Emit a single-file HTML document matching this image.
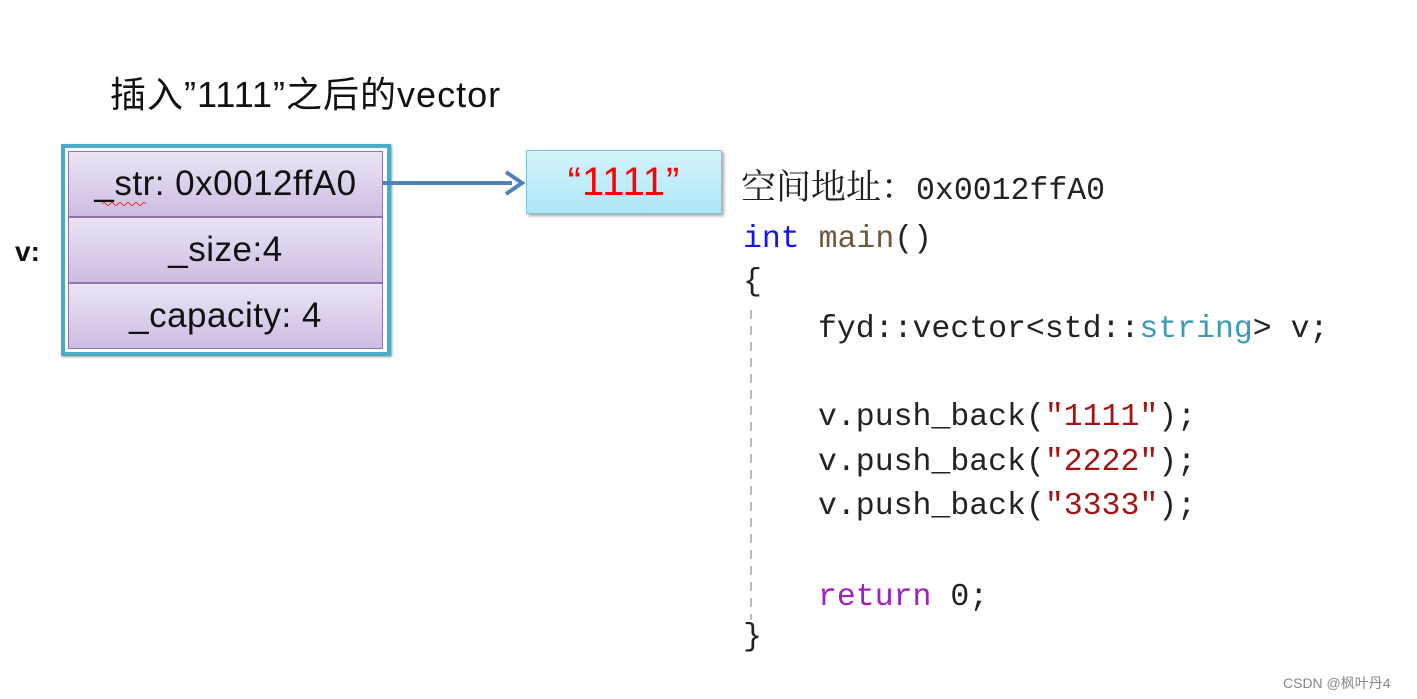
<!DOCTYPE html>
<html><head><meta charset="utf-8"><style>
body{margin:0;width:1417px;height:699px;background:#fff;position:relative;overflow:hidden;font-family:"Liberation Sans","Noto Sans CJK SC",sans-serif}
.a{position:absolute;white-space:nowrap}
.cell{position:absolute;left:68px;width:313px;height:64px;border:1px solid #8c74ac;background:linear-gradient(#ebe4f4,#cdbde3);font-size:35px;line-height:64px;text-align:center;color:#111;letter-spacing:0.5px}
.code{position:absolute;font-family:"Liberation Mono","Noto Serif CJK SC",monospace;font-size:31.5px;color:#222;white-space:pre;line-height:36px}
</style></head><body>
<div class="a" style="left:110px;top:66px;font-size:36px;letter-spacing:1px;color:#111;font-family:'Liberation Sans','Noto Sans CJK SC',sans-serif">插入”1111”之后的vector</div>
<div class="a" style="left:15px;top:236px;font-size:28px;font-weight:bold;color:#111">v:</div>
<div class="a" style="left:61px;top:144px;width:322px;height:204px;border:4px solid #4bacc6;box-shadow:1px 1px 2px #999"></div>
<div class="cell" style="top:151px">_str: 0x0012ffA0</div>
<div class="cell" style="top:217px">_size:4</div>
<div class="cell" style="top:283px">_capacity: 4</div>
<svg class="a" style="left:0;top:0" width="1417" height="699">
<line x1="383" y1="183" x2="512" y2="183" stroke="#4f81bd" stroke-width="4"/>
<polyline points="506,172 522,183 506,194" fill="none" stroke="#4f81bd" stroke-width="4"/>
<line x1="751" y1="310" x2="751" y2="620" stroke="#bbb" stroke-width="2" stroke-dasharray="9,7"/>
<path d="M102,204 q2,-3 4,0 q2,3 4,0 q2,-3 4,0 q2,3 4,0 q2,-3 4,0 q2,3 4,0 q2,-3 4,0 q2,3 4,0 q2,-3 4,0 q2,3 4,0 q2,-3 4,0" fill="none" stroke="#e03030" stroke-width="1"/>
</svg>
<div class="a" style="left:526px;top:150px;width:194px;height:62px;border:1px solid #7fc4dc;background:linear-gradient(#d4f3fb,#aee6f6);box-shadow:2px 2px 3px #aaa;text-align:center;line-height:62px;font-size:40px;letter-spacing:1px;color:#f00">“1111”</div>
<div class="code" style="left:741px;top:167px"><span style="font-size:35px;font-family:'Noto Serif CJK SC',serif">空间地址：</span>0x0012ffA0</div>
<div class="code" style="left:743px;top:222px"><span style="color:#1515e8">int</span> <span style="color:#6e5a3a">main</span>()</div>
<div class="code" style="left:743px;top:265px">{</div>
<div class="code" style="left:818px;top:312px">fyd::vector&lt;std::<span style="color:#3a9ab8">string</span>&gt; v;</div>
<div class="code" style="left:818px;top:400px">v.push_back(<span style="color:#a31515">"1111"</span>);</div>
<div class="code" style="left:818px;top:445px">v.push_back(<span style="color:#a31515">"2222"</span>);</div>
<div class="code" style="left:818px;top:489px">v.push_back(<span style="color:#a31515">"3333"</span>);</div>
<div class="code" style="left:818px;top:580px"><span style="color:#a020c0">return</span> 0;</div>
<div class="code" style="left:743px;top:620px">}</div>
<div class="a" style="left:1283px;top:673px;font-size:14px;color:#888">CSDN @枫叶丹4</div>
</body></html>
